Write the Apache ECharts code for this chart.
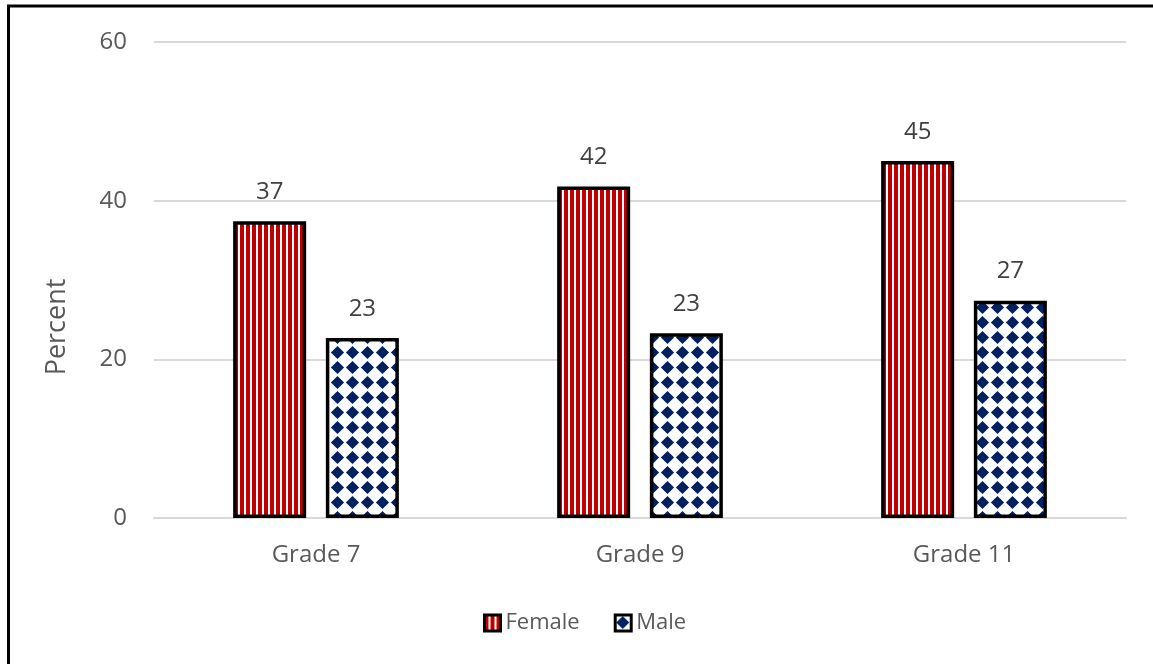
<!DOCTYPE html>
<html>
<head>
<meta charset="utf-8">
<script src="https://cdn.jsdelivr.net/npm/echarts@6/dist/echarts.min.js"></script>
<style>
  html, body { margin: 0; padding: 0; background: #ffffff; }
  #chart { width: 1153px; height: 664px; }
</style>
</head>
<body>
<div id="chart"></div>
<script>
// Share of students by grade and sex (percent)
const grades = ['Grade 7', 'Grade 9', 'Grade 11'];
const femaleValues = [37.4, 41.8, 45.0];
const maleValues = [22.7, 23.3, 27.4];
const yTicks = [0, 20, 40, 60];
const seriesNames = ['Female', 'Male'];

const FONT = '"Open Sans", "Noto Sans", sans-serif';

// Vertical red/white stripe fill
function stripeTile() {
  const c = document.createElement('canvas');
  c.width = 6; c.height = 6;
  const g = c.getContext('2d');
  g.fillStyle = '#ffffff';
  g.fillRect(0, 0, 6, 6);
  g.fillStyle = '#C00000';
  g.fillRect(0, 0, 4, 6);
  return c;
}

// Navy diamond grid on white
function diamondTile() {
  const s = 15;
  const c = document.createElement('canvas');
  c.width = s; c.height = s;
  const g = c.getContext('2d');
  g.fillStyle = '#ffffff';
  g.fillRect(0, 0, s, s);
  g.fillStyle = '#002060';
  const m = s / 2, r = 6.6;
  g.beginPath();
  g.moveTo(m, m - r);
  g.lineTo(m + r, m);
  g.lineTo(m, m + r);
  g.lineTo(m - r, m);
  g.closePath();
  g.fill();
  // squared-off core gives the blocky diamond look
  g.fillRect(m - 3, m - 3, 6, 6);
  return c;
}

const chart = echarts.init(document.getElementById('chart'), null, { renderer: 'canvas' });

const labelStyle = {
  show: true,
  position: 'top',
  distance: 17,
  color: '#404040',
  fontSize: 24,
  fontFamily: FONT,
  formatter: p => Math.round(p.value)
};

chart.setOption({
  animation: false,
  backgroundColor: '#ffffff',
  grid: { left: 154, right: 27, top: 42, bottom: 146, containLabel: false },
  legend: {
    data: seriesNames,
    left: 478,
    top: 607,
    icon: 'rect',
    itemWidth: 16,
    itemHeight: 16,
    itemGap: 34,
    itemStyle: { borderColor: '#000000', borderWidth: 3 },
    textStyle: { color: '#595959', fontSize: 22, fontFamily: FONT }
  },
  xAxis: {
    type: 'category',
    data: grades,
    axisLine: { show: true, lineStyle: { color: '#D9D9D9', width: 2 } },
    axisTick: { show: false },
    axisLabel: { color: '#595959', fontSize: 24, fontFamily: FONT, margin: 25 }
  },
  yAxis: {
    type: 'value',
    min: yTicks[0],
    max: yTicks[yTicks.length - 1],
    interval: yTicks[1] - yTicks[0],
    axisLine: { show: false },
    axisTick: { show: false },
    axisLabel: { color: '#595959', fontSize: 24, fontFamily: FONT, margin: 27 },
    splitLine: { lineStyle: { color: '#D9D9D9', width: 2 } }
  },
  graphic: [
    {
      type: 'rect',
      shape: { x: 8.5, y: 6, width: 1300, height: 800 },
      style: { fill: 'none', stroke: '#000000', lineWidth: 3 },
      silent: true
    },
    {
      type: 'text',
      x: 57,
      y: 327,
      rotation: Math.PI / 2,
      style: {
        text: 'Percent',
        fill: '#595959',
        font: '27px ' + FONT,
        align: 'center',
        verticalAlign: 'middle'
      }
    }
  ],
  series: [
    {
      name: seriesNames[0],
      type: 'bar',
      data: femaleValues,
      barWidth: 73,
      barGap: '27%',
      itemStyle: {
        color: { image: stripeTile(), repeat: 'repeat' },
        borderColor: '#000000',
        borderWidth: 3.5
      },
      label: labelStyle
    },
    {
      name: seriesNames[1],
      type: 'bar',
      data: maleValues,
      barWidth: 73,
      barGap: '27%',
      itemStyle: {
        color: { image: diamondTile(), repeat: 'repeat' },
        borderColor: '#000000',
        borderWidth: 3.5
      },
      label: labelStyle
    }
  ]
});
</script>
</body>
</html>
